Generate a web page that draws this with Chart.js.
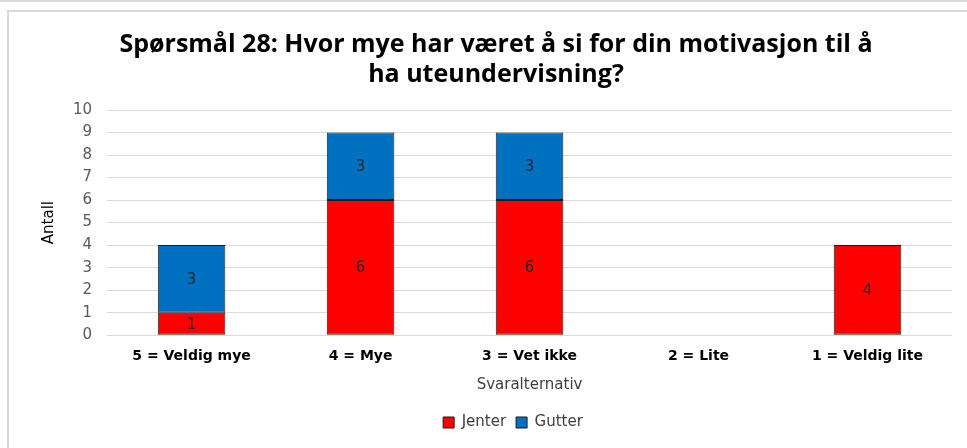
<!DOCTYPE html>
<html>
<head>
<meta charset="utf-8">
<script src="https://cdn.jsdelivr.net/npm/chart.js@4/dist/chart.umd.min.js"></script>
<style>
html,body{margin:0;padding:0;background:#fff;}
#wrap{position:relative;width:967px;height:448px;overflow:hidden;}
#topline{position:absolute;left:0;top:0;width:967px;height:2px;background:#d9d9d9;}
#box{position:absolute;left:7px;top:10px;width:970px;height:450px;border-left:2px solid #d9d9d9;border-top:2px solid #d9d9d9;box-sizing:border-box;}
canvas{position:absolute;left:0;top:0;}
</style>
</head>
<body>
<div id="wrap">
<div id="topline"></div>
<div id="box"></div>
<canvas id="c" width="967" height="448"></canvas>
</div>
<script>
const titleLines = ["Spørsmål 28: Hvor mye har været å si for din motivasjon til å", "ha uteundervisning?"];
const categories = ["5 = Veldig mye", "4 = Mye", "3 = Vet ikke", "2 = Lite", "1 = Veldig lite"];
const jenter = [1, 6, 6, 0, 4];
const gutter = [3, 3, 3, 0, 0];
const yTitle = "Antall";
const xTitle = "Svaralternativ";

const valueLabels = {
  id: 'valueLabels',
  afterDatasetsDraw(chart) {
    const ctx = chart.ctx;
    ctx.save();
    ctx.font = '15px "DejaVu Sans"';
    ctx.fillStyle = '#262626';
    ctx.textAlign = 'center';
    ctx.textBaseline = 'middle';
    chart.data.datasets.forEach((ds, i) => {
      const meta = chart.getDatasetMeta(i);
      meta.data.forEach((bar, j) => {
        const v = ds.data[j];
        if (!v) return;
        const p = bar.getProps(['x', 'y', 'base'], true);
        ctx.fillText(String(v), p.x, (p.y + p.base) / 2 + 1);
      });
    });
    ctx.restore();
  }
};

const shiftLegend = {
  id: 'shiftLegend',
  afterLayout(chart) {
    if (chart.legend) { chart.legend.left += 17; chart.legend.right += 17; }
  }
};

new Chart(document.getElementById('c'), {
  type: 'bar',
  data: {
    labels: categories,
    datasets: [
      { label: 'Jenter', data: jenter, backgroundColor: '#ff0000', borderColor: '#1a1a1a', borderWidth: 1, borderSkipped: false, categoryPercentage: 1, barPercentage: 0.4 },
      { label: 'Gutter', data: gutter, backgroundColor: '#0070c0', borderColor: '#1a1a1a', borderWidth: 1, borderSkipped: false, categoryPercentage: 1, barPercentage: 0.4 }
    ]
  },
  options: {
    responsive: false,
    animation: false,
    layout: { padding: { left: 40, right: 15, top: 30, bottom: 8 } },
    plugins: {
      title: {
        display: true,
        text: titleLines,
        font: { family: '"Open Sans"', weight: 'bold', size: 25 },
        color: '#000',
        lineHeight: 1.2,
        padding: { top: 0, bottom: 20 }
      },
      legend: {
        position: 'bottom',
        labels: {
          font: { family: '"DejaVu Sans"', size: 15 },
          color: '#404040',
          boxWidth: 11,
          boxHeight: 11,
          padding: 10,
          useBorderRadius: false
        }
      },
      tooltip: { enabled: false }
    },
    scales: {
      x: {
        stacked: true,
        grid: { display: false },
        border: { display: false },
        ticks: { font: { family: '"DejaVu Sans"', weight: 'bold', size: 14 }, color: '#000', padding: 5, maxRotation: 0 },
        title: { display: true, text: xTitle, font: { family: '"DejaVu Sans"', size: 15 }, color: '#404040', padding: { top: 6, bottom: 11 } }
      },
      y: {
        stacked: true,
        min: 0,
        max: 10,
        ticks: { stepSize: 1, font: { family: '"DejaVu Sans"', size: 15 }, color: '#595959', padding: 15 },
        grid: { color: '#d9d9d9', drawTicks: false },
        border: { display: false },
        title: { display: true, text: yTitle, font: { family: '"DejaVu Sans"', size: 15 }, color: '#000', padding: 0 }
      }
    }
  },
  plugins: [valueLabels, shiftLegend]
});
</script>
</body>
</html>
